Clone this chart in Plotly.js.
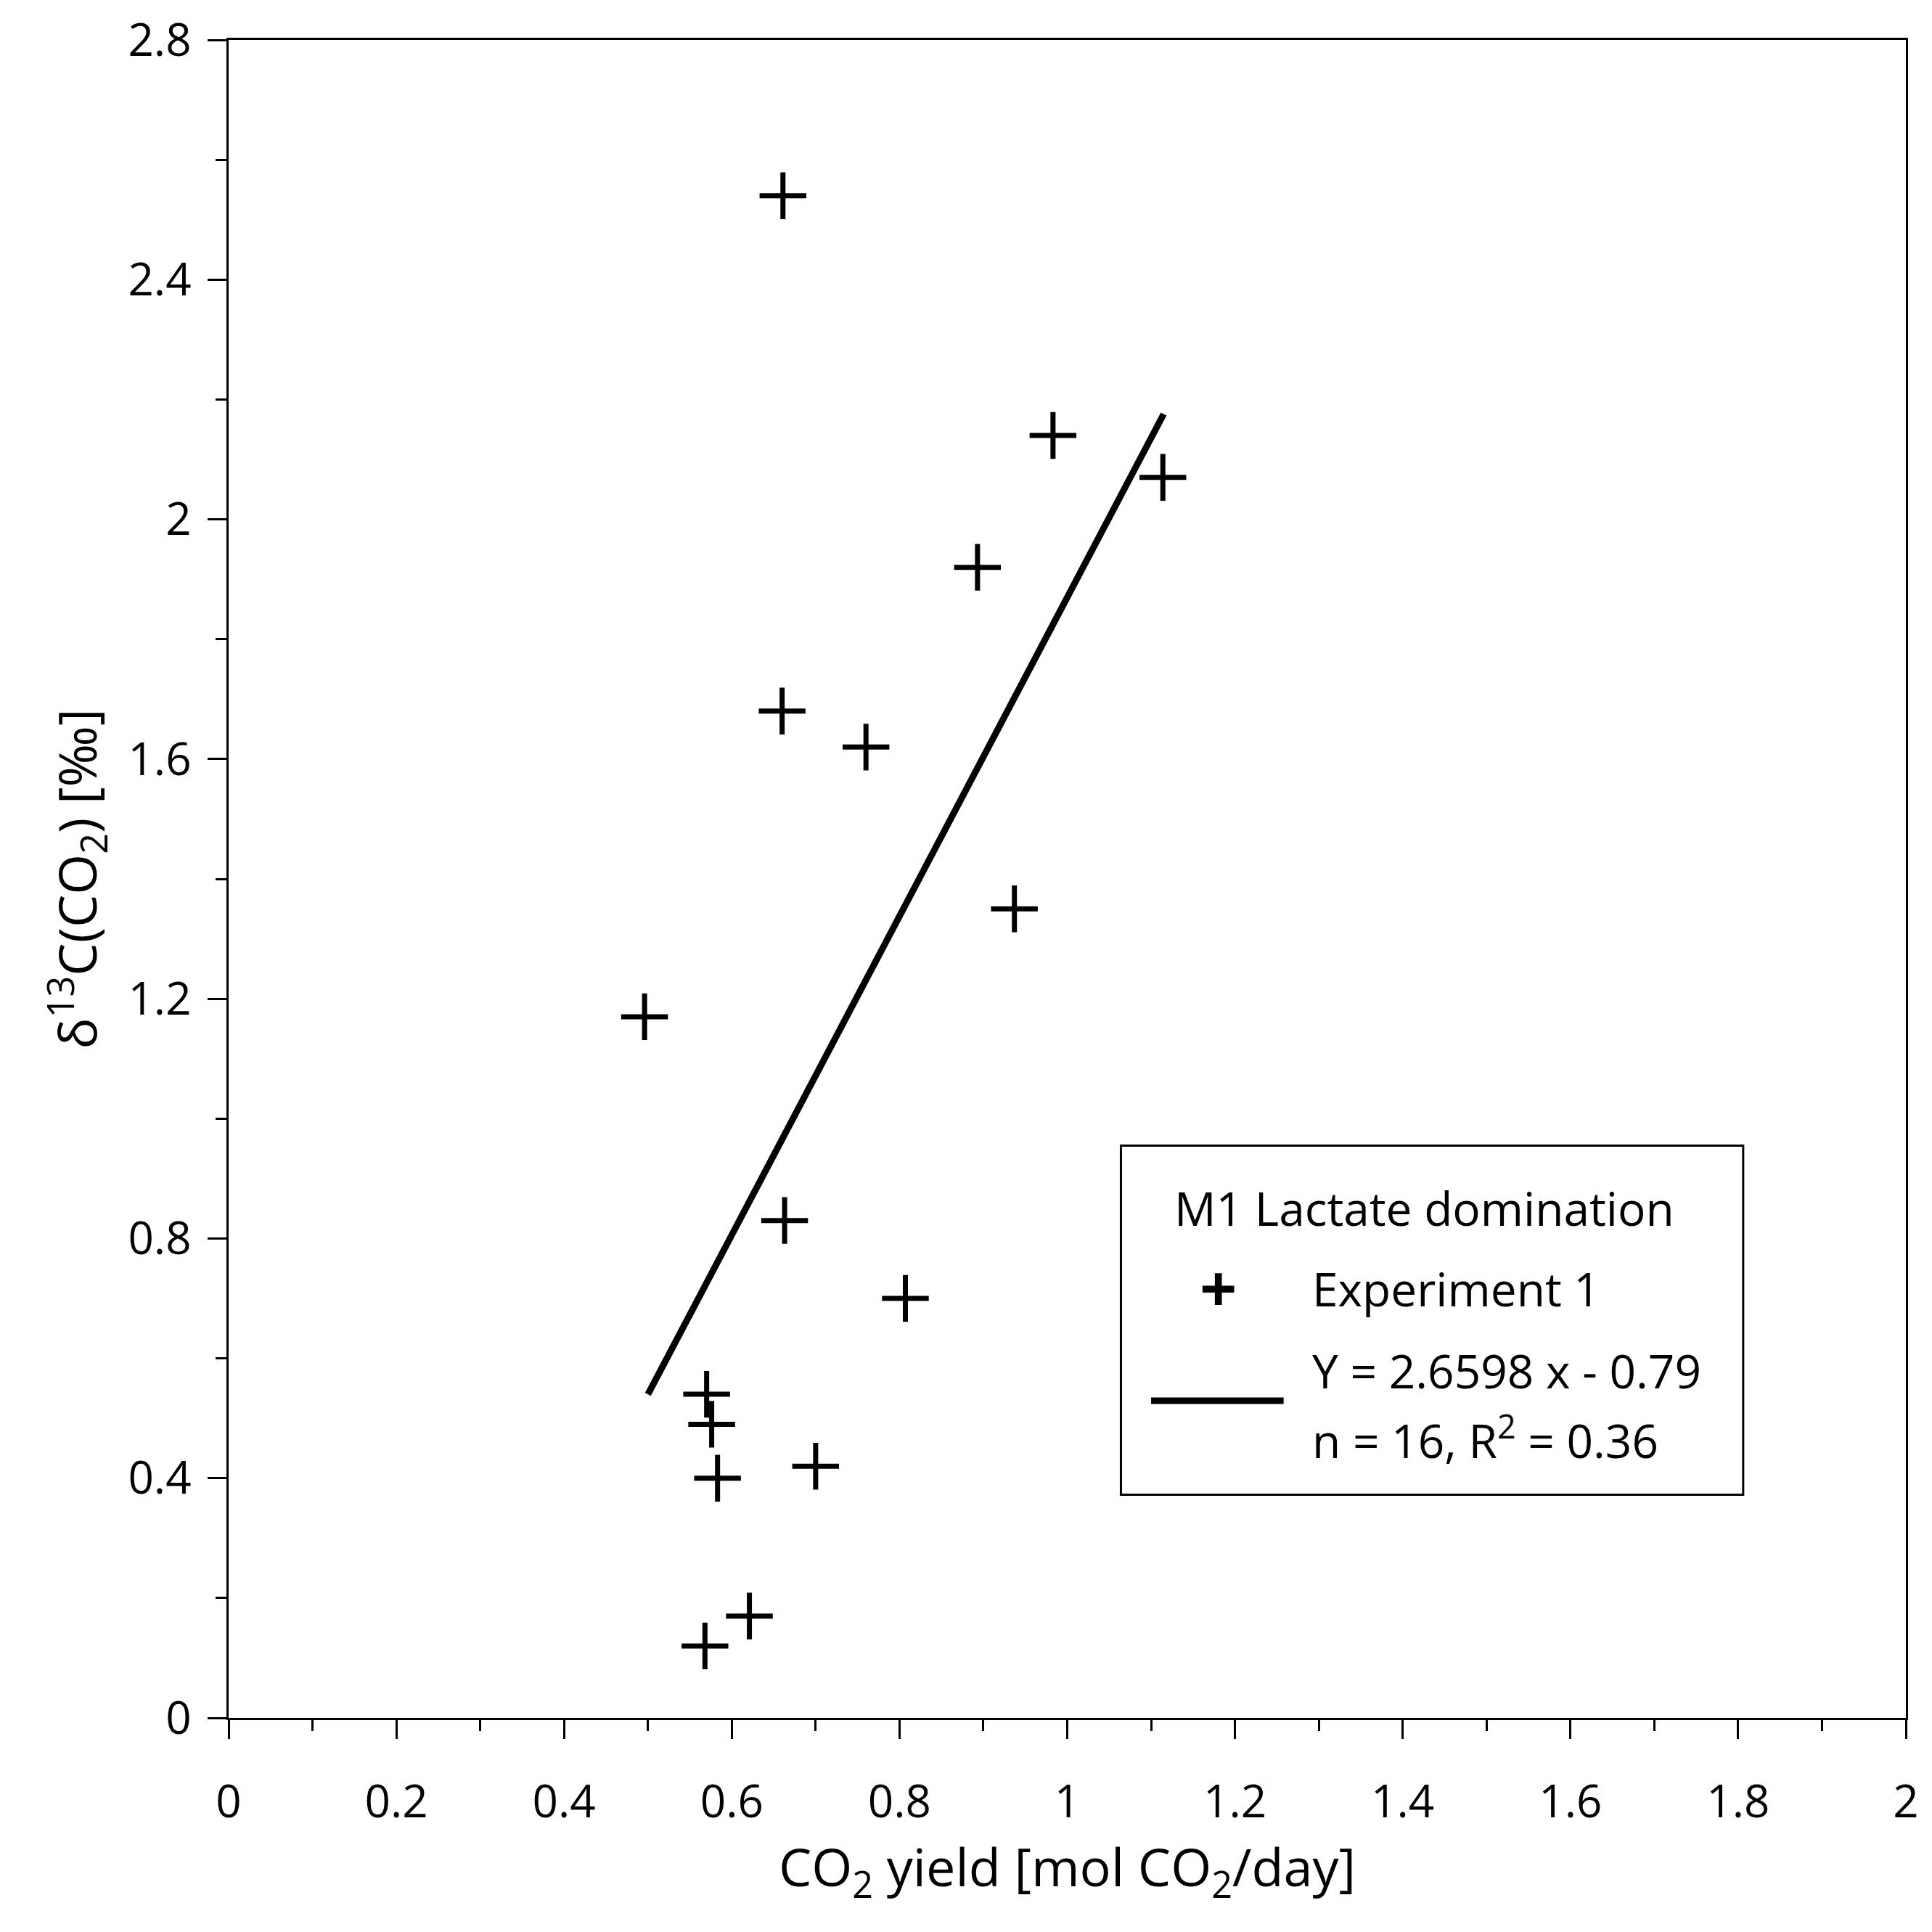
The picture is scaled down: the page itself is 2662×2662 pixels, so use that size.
<!DOCTYPE html>
<html>
<head>
<script src="https://cdn.plot.ly/plotly-3.0.1.min.js"></script>
<style>body{margin:0;background:#fff}</style>
</head>
<body>
<div id="graph" style="width:2662px;height:2662px"></div>
<script>
const yieldX = [0.661, 0.983, 1.114, 0.893, 0.660, 0.760, 0.937, 0.496, 0.663, 0.807, 0.570, 0.576, 0.583, 0.700, 0.621, 0.568];
const delta13C = [2.54, 2.14, 2.07, 1.92, 1.68, 1.62, 1.35, 1.17, 0.83, 0.70, 0.54, 0.49, 0.40, 0.42, 0.17, 0.12];
const fitX = [0.5, 1.115];
const slope = 2.6598, intercept = -0.79;
const fitY = fitX.map(function (x) { return slope * x + intercept; });
const legendTitle = "M1 Lactate domination";
const legendPoints = "Experiment 1";
const legendFit1 = "Y = 2.6598 x - 0.79";
const legendFit2 = "n = 16, R<sup>2</sup> = 0.36";

const font = { family: "Open Sans, sans-serif", color: "#000" };
const legFont = Object.assign({ size: 64 }, font);

const points = {
    x: yieldX, y: delta13C, mode: "markers",
    marker: { symbol: "cross-thin-open", size: 46, color: "#000", line: { color: "#000", width: 7 } }
};
const fit = { x: fitX, y: fitY, mode: "lines", line: { color: "#000", width: 9 } };

const axisBase = {
    showgrid: false, zeroline: false, showline: true, linecolor: "#000", linewidth: 3,
    mirror: true, ticks: "outside", ticklen: 26, tickwidth: 3, tickcolor: "#000",
    tickfont: Object.assign({ size: 62 }, font)
};

function legText(x, y, text) {
    return { xref: "paper", yref: "paper", x: x, y: y, xanchor: "left", yanchor: "middle",
        showarrow: false, text: text, font: legFont };
}

Plotly.newPlot("graph", [points, fit], {
    width: 2662, height: 2662,
    paper_bgcolor: "#fff", plot_bgcolor: "#fff",
    margin: { l: 315, r: 36, t: 55, b: 295 },
    font: font,
    showlegend: false,
    xaxis: Object.assign({}, axisBase, {
        range: [0, 2], dtick: 0.2, tick0: 0, ticklabelstandoff: 34,
        minor: { dtick: 0.1, ticks: "outside", ticklen: 15, tickwidth: 3, tickcolor: "#000" },
        title: { text: "CO<sub>2</sub> yield [mol CO<sub>2</sub>/day]", font: Object.assign({ size: 72 }, font), standoff: 20 }
    }),
    yaxis: Object.assign({}, axisBase, {
        range: [0, 2.8], dtick: 0.4, tick0: 0, ticklabelstandoff: 10,
        minor: { dtick: 0.2, ticks: "outside", ticklen: 15, tickwidth: 3, tickcolor: "#000" },
        title: { text: "δ<sup>13</sup>C(CO<sub>2</sub>) [‰]", font: Object.assign({ size: 72 }, font), standoff: 20 }
    }),
    shapes: [
        { type: "rect", xref: "paper", yref: "paper", x0: 0.532, x1: 0.903, y0: 0.133, y1: 0.341,
          line: { color: "#000", width: 3 }, fillcolor: "#fff", layer: "above" },
        { type: "line", xref: "paper", yref: "paper", x0: 0.550, x1: 0.629, y0: 0.189, y1: 0.189,
          line: { color: "#000", width: 9 }, layer: "above" }
    ],
    annotations: [
        legText(0.563, 0.304, legendTitle),
        { xref: "paper", yref: "paper", x: 0.590, y: 0.257, xanchor: "center", yanchor: "middle",
          showarrow: false, text: "<b>+</b>", font: Object.assign({}, font, { size: 90 }) },
        legText(0.645, 0.256, legendPoints),
        legText(0.645, 0.207, legendFit1),
        legText(0.645, 0.167, legendFit2)
    ]
}, { displayModeBar: false });
</script>
</body>
</html>
